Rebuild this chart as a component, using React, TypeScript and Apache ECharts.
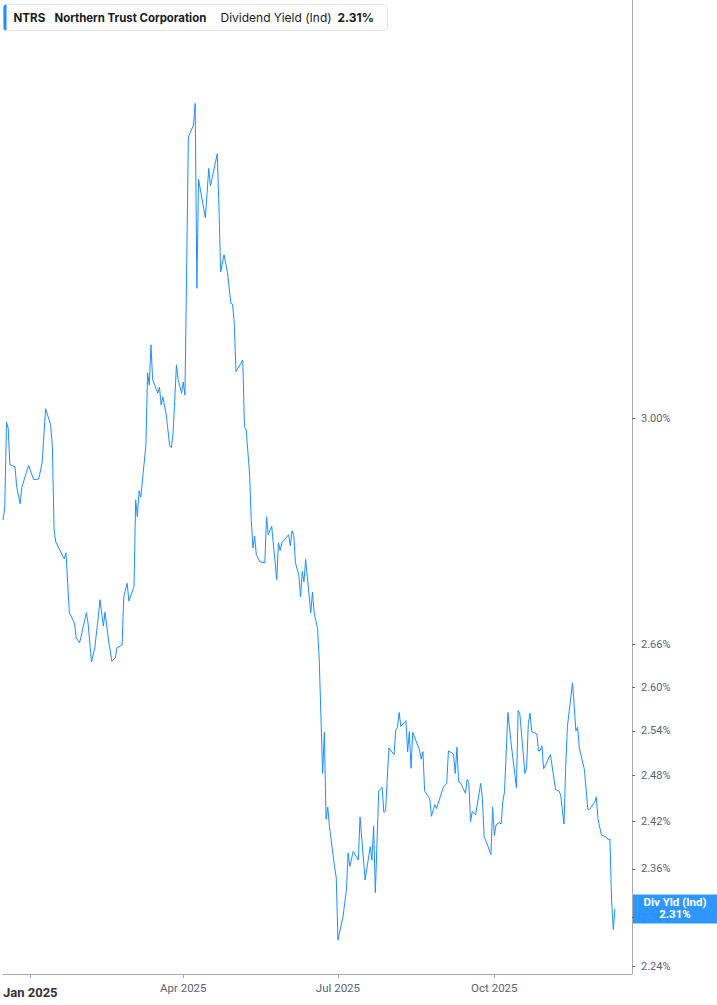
import { useEffect, useRef } from 'react';
import * as echarts from 'echarts';

// days counted from 2025-01-01
const dayOffsets = [
  -16, -15, -14, -13, -12, -9, -8, -6, -5, -1,
  2, 5, 7, 9, 12, 13, 14, 15, 20, 21,
  22, 23, 26, 27, 29, 33, 34, 36, 38, 40,
  41, 43, 44, 46, 48, 50, 51, 54, 55, 57,
  58, 61, 62, 63, 64, 65, 68, 69, 70, 71,
  72, 75, 76, 77, 78, 80, 82, 83, 84, 86,
  87, 89, 90, 91, 93, 96, 97, 98, 99, 103,
  105, 106, 110, 111, 112, 114, 116, 118, 119, 120,
  121, 125, 126, 127, 129, 130, 131, 132, 133, 135,
  138, 139, 140, 142, 145, 146, 147, 148, 152, 153,
  154, 155, 156, 158, 159, 160, 161, 162, 165, 166,
  167, 169, 170, 171, 172, 173, 174, 175, 176, 179,
  180, 181, 184, 186, 187, 188, 190, 193, 194, 197,
  200, 201, 202, 203, 205, 207, 208, 209, 211, 214,
  215, 216, 217, 218, 221, 222, 223, 224, 225, 229,
  230, 231, 232, 235, 236, 238, 239, 243, 245, 246,
  249, 250, 251, 252, 253, 256, 257, 258, 259, 260,
  262, 265, 266, 267, 269, 271, 272, 273, 274, 276,
  277, 278, 279, 281, 283, 285, 286, 287, 288, 291,
  292, 293, 294, 295, 298, 299, 300, 301, 302, 306,
  307, 309, 311, 312, 314, 315, 316, 319, 321, 322,
  323, 326, 328, 329, 332, 333, 334, 336, 339, 340,
  341, 342, 343, 344,
];

const divYield = [
  2.842, 2.862, 2.994, 2.985, 2.927, 2.924, 2.893, 2.867, 2.892, 2.926,
  2.904, 2.905, 2.931, 3.016, 2.990, 2.955, 2.827, 2.809, 2.784, 2.793,
  2.748, 2.705, 2.690, 2.669, 2.662, 2.705, 2.690, 2.635, 2.656, 2.699,
  2.724, 2.686, 2.706, 2.666, 2.636, 2.641, 2.655, 2.659, 2.728, 2.748,
  2.722, 2.743, 2.873, 2.847, 2.887, 2.877, 2.957, 3.074, 3.054, 3.120,
  3.063, 3.041, 3.051, 3.022, 3.035, 3.006, 2.957, 2.954, 2.977, 3.087,
  3.063, 3.041, 3.059, 3.038, 3.486, 3.508, 3.549, 3.216, 3.408, 3.339,
  3.428, 3.396, 3.455, 3.357, 3.244, 3.274, 3.243, 3.190, 3.189, 3.157,
  3.076, 3.095, 2.987, 2.982, 2.914, 2.842, 2.800, 2.818, 2.790, 2.780,
  2.778, 2.847, 2.820, 2.833, 2.753, 2.808, 2.796, 2.808, 2.820, 2.803,
  2.826, 2.820, 2.778, 2.760, 2.728, 2.765, 2.750, 2.783, 2.705, 2.735,
  2.705, 2.683, 2.638, 2.559, 2.483, 2.538, 2.423, 2.439, 2.414, 2.363,
  2.349, 2.272, 2.301, 2.334, 2.380, 2.363, 2.382, 2.371, 2.426, 2.346,
  2.388, 2.371, 2.414, 2.330, 2.460, 2.465, 2.432, 2.434, 2.517, 2.508,
  2.541, 2.545, 2.565, 2.546, 2.554, 2.512, 2.539, 2.490, 2.538, 2.514,
  2.502, 2.512, 2.460, 2.450, 2.427, 2.442, 2.437, 2.465, 2.470, 2.513,
  2.509, 2.483, 2.518, 2.472, 2.471, 2.457, 2.475, 2.471, 2.420, 2.433,
  2.429, 2.470, 2.450, 2.401, 2.390, 2.378, 2.439, 2.402, 2.416, 2.419,
  2.417, 2.446, 2.459, 2.565, 2.521, 2.483, 2.464, 2.568, 2.563, 2.483,
  2.490, 2.550, 2.564, 2.539, 2.536, 2.513, 2.514, 2.520, 2.489, 2.508,
  2.493, 2.462, 2.460, 2.455, 2.417, 2.492, 2.546, 2.606, 2.540, 2.545,
  2.517, 2.488, 2.436, 2.436, 2.445, 2.452, 2.423, 2.403, 2.400, 2.397,
  2.398, 2.321, 2.285, 2.310,
];

const yTicks = [2.24, 2.3, 2.36, 2.42, 2.48, 2.54, 2.6, 2.66, 3.0];
const xTickDates = ['2025-01-01', '2025-04-01', '2025-07-01', '2025-10-01'];
const monthNames = ['Jan', 'Feb', 'Mar', 'Apr', 'May', 'Jun', 'Jul', 'Aug', 'Sep', 'Oct', 'Nov', 'Dec'];

const lastYield = 2.31;
const LINE_BLUE = '#1e8fff';
const FONT = 'Roboto, "Noto Sans", sans-serif';
const HEAD_FONT = 'Inter, Roboto, sans-serif';

export default function App() {
  const ref = useRef<HTMLDivElement>(null);

  useEffect(() => {
    if (!ref.current) return;
    const chart = echarts.init(ref.current, null, { renderer: 'svg' });

    const seriesData = dayOffsets.map((d, i) => [Date.UTC(2025, 0, 1 + d), divYield[i]]);
    const xTickValues = xTickDates.map((s) => new Date(s + 'T00:00:00Z').getTime());

    const option: echarts.EChartsOption = {
      animation: false,
      backgroundColor: '#fff',
      textStyle: { fontFamily: FONT },
      grid: { left: 0, right: 85, top: 0, bottom: 31 },
      xAxis: {
        type: 'value',
        min: Date.UTC(2024, 11, 16),
        max: Date.UTC(2025, 11, 21),
        axisLine: { show: true, lineStyle: { color: '#aaa', width: 1 } },
        axisTick: {
          show: true,
          length: 4,
          lineStyle: { color: '#aaa' },
          customValues: xTickValues,
        },
        axisLabel: {
          margin: 8,
          customValues: xTickValues,
          formatter: (val: number) => {
            const d = new Date(val);
            const m = d.getUTCMonth();
            const txt = monthNames[m] + ' ' + d.getUTCFullYear();
            return m === 0 ? '{b|' + txt + '}' : '{n|' + txt + '}';
          },
          rich: {
            b: { fontFamily: FONT, fontSize: 13, fontWeight: 'bold', color: '#333', padding: [4, 0, 0, 0] },
            n: { fontFamily: FONT, fontSize: 11.5, color: '#5a6270' },
          },
        },
        splitLine: { show: false },
      },
      yAxis: {
        type: 'log',
        position: 'right',
        min: 2.2313,
        max: 3.75,
        axisLine: { show: true, lineStyle: { color: '#aaa', width: 1 } },
        axisTick: {
          show: true,
          length: 3,
          lineStyle: { color: '#666' },
          customValues: yTicks,
        },
        axisLabel: {
          margin: 9,
          color: '#5a6270',
          fontSize: 11,
          fontFamily: FONT,
          customValues: yTicks,
          formatter: (v: number) => v.toFixed(2) + '%',
        },
        splitLine: { show: false },
      },
      series: [
        {
          type: 'line',
          data: seriesData,
          showSymbol: false,
          symbol: 'none',
          lineStyle: { color: LINE_BLUE, width: 1 },
          markLine: {
            silent: true,
            symbol: 'none',
            lineStyle: { color: 'rgba(0,0,0,0)', width: 0 },
            data: [{ yAxis: lastYield }],
            label: {
              show: true,
              position: 'end',
              distance: 1,
              backgroundColor: 'rgba(30,143,255,0.93)',
              padding: [2, 0, 3, 0],
              formatter: '{a|Div Yld (Ind)}\n{a|' + lastYield.toFixed(2) + '%}',
              rich: {
                a: {
                  width: 84,
                  align: 'center',
                  color: '#fff',
                  fontWeight: 'bold',
                  fontSize: 11.5,
                  lineHeight: 12,
                  fontFamily: FONT,
                },
              },
            },
          },
        },
      ],
      graphic: [
        {
          type: 'group',
          left: 3,
          top: 4,
          children: [
            {
              type: 'rect',
              shape: { x: 0, y: 0, width: 384, height: 26, r: 3 },
              style: { fill: '#fff', stroke: '#e6e6e6', lineWidth: 1 },
            },
            {
              type: 'rect',
              shape: { x: 0, y: 0, width: 3, height: 26, r: [3, 0, 0, 3] },
              style: { fill: LINE_BLUE },
            },
            {
              type: 'text',
              x: 10,
              y: 13,
              style: { text: 'NTRS', fill: '#1a1a1a', font: 'bold 11.6px ' + HEAD_FONT, verticalAlign: 'middle' },
            },
            {
              type: 'text',
              x: 51,
              y: 13,
              style: { text: 'Northern Trust Corporation', fill: '#1a1a1a', font: 'bold 11.4px ' + HEAD_FONT, verticalAlign: 'middle' },
            },
            {
              type: 'text',
              x: 217,
              y: 13,
              style: { text: 'Dividend Yield (Ind)', fill: '#1a1a1a', font: '12px ' + HEAD_FONT, verticalAlign: 'middle' },
            },
            {
              type: 'text',
              x: 334,
              y: 13,
              style: { text: lastYield.toFixed(2) + '%', fill: '#1a1a1a', font: 'bold 12px ' + HEAD_FONT, verticalAlign: 'middle' },
            },
          ],
        },
      ],
    };

    chart.setOption(option);
    return () => chart.dispose();
  }, []);

  return (
    <div
      ref={ref}
      style={{ position: 'absolute', left: 0, top: 0, width: 717, height: 1005, background: '#fff' }}
    />
  );
}
